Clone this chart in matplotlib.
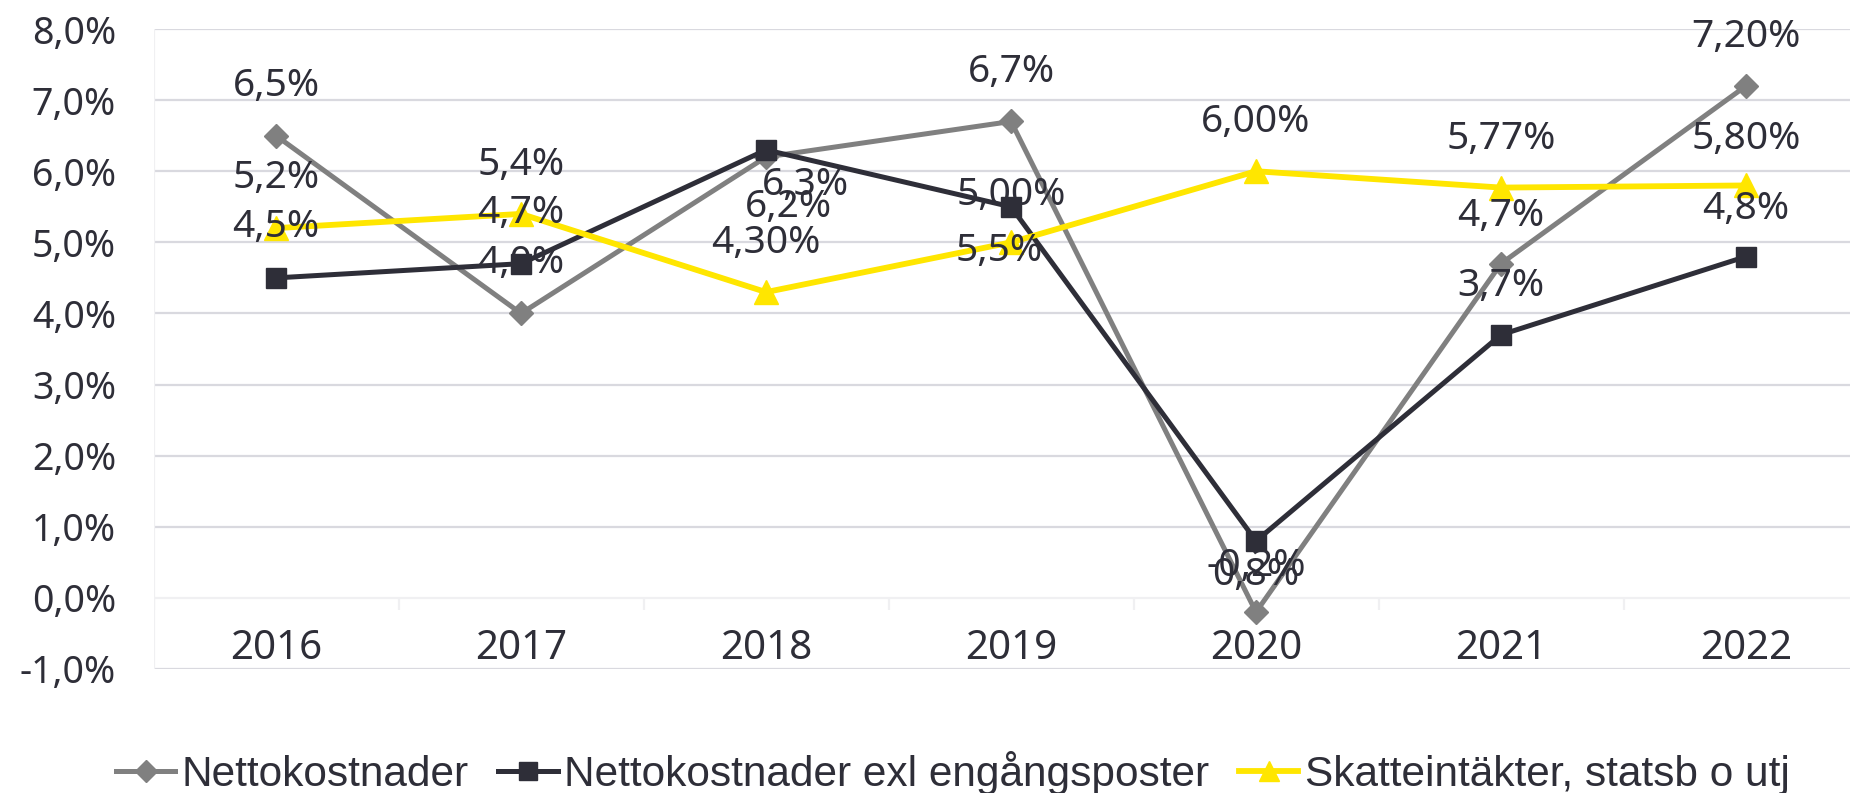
import numpy as np
import matplotlib
matplotlib.use("Agg")
import matplotlib.pyplot as plt
from matplotlib.lines import Line2D

# ---------------------------------------------------------------------------
# Data
# ---------------------------------------------------------------------------
years = ["2016", "2017", "2018", "2019", "2020", "2021", "2022"]

netto = [6.5, 4.0, 6.2, 6.7, -0.2, 4.7, 7.2]
netto_labels = ["6,5%", "4,0%", "6,2%", "6,7%", "-0,2%", "4,7%", "7,20%"]

netto_exl = [4.5, 4.7, 6.3, 5.5, 0.8, 3.7, 4.8]
netto_exl_labels = ["4,5%", "4,7%", "6,3%", "5,5%", "0,8%", "3,7%", "4,8%"]

skatt = [5.2, 5.4, 4.3, 5.0, 6.0, 5.77, 5.8]
skatt_labels = ["5,2%", "5,4%", "4,30%", "5,00%", "6,00%", "5,77%", "5,80%"]

series_names = ["Nettokostnader", "Nettokostnader exl engångsposter",
                "Skatteintäkter, statsb o utj"]

yticks = [-1, 0, 1, 2, 3, 4, 5, 6, 7, 8]

# ---------------------------------------------------------------------------
# Style
# ---------------------------------------------------------------------------
GRAY = "#808080"
DARK = "#2E2E38"
YELLOW = "#FFE600"
TEXT = "#2E2E38"
GRID = "#D9D9DF"
FAINT = "#F0F0F2"
FONT = ["Noto Sans", "DejaVu Sans"]
LEGEND_FONT = ["Liberation Sans", "DejaVu Sans"]

# label offsets (dx in categories, dy in percent units)
off_netto = [(0, 0.70), (0, 0.71), (0.09, -0.71), (0, 0.69), (0, 0.65), (0, 0.67), (0, 0.69)]
off_exl = [(0, 0.71), (0, 0.71), (0.16, -0.49), (-0.05, -0.62), (0, -0.48), (0, 0.69), (0, 0.67)]
off_skatt = [(0, 0.71), (0, 0.69), (0, 0.69), (0, 0.67), (0, 0.69), (0, 0.68), (0, 0.65)]

fig = plt.figure(figsize=(18.5, 7.93), dpi=100)
ax = fig.add_axes([0.083, 0.1564, 0.927, 0.807])

x = np.arange(len(years))

# grid lines
for t in yticks:
    ax.axhline(t, color=FAINT if t == 0 else GRID, lw=1.6, zorder=0)
ax.vlines(np.arange(len(years) + 1) - 0.5, -0.17, 0, color=FAINT, lw=1.6, zorder=0)
ax.vlines(-0.5, -1, 8, color=FAINT, lw=1.6, zorder=0)

ax.plot(x, netto, color=GRAY, lw=3.6, marker="D", ms=12, zorder=3)
ax.plot(x, netto_exl, color=DARK, lw=3.6, marker="s", ms=15, zorder=4)
ax.plot(x, skatt, color=YELLOW, lw=4.2, marker="^", ms=17, zorder=5)

for vals, labs, offs in [(netto, netto_labels, off_netto),
                         (netto_exl, netto_exl_labels, off_exl),
                         (skatt, skatt_labels, off_skatt)]:
    for i, (v, lab) in enumerate(zip(vals, labs)):
        dx, dy = offs[i]
        ax.text(i + dx, v + dy, lab, ha="center", va="center", fontsize=28,
                color=TEXT, family=FONT, zorder=10)

# category labels below zero line
for i, yr in enumerate(years):
    ax.text(i, -0.72, yr, ha="center", va="center", fontsize=29,
            color=TEXT, family=FONT)

ax.set_xlim(-0.5, len(years) - 0.5)
ax.set_ylim(-1, 8)
ax.set_yticks(yticks)
ax.set_yticklabels([f"{t:.1f}%".replace(".", ",") for t in yticks],
                   fontsize=27, color=TEXT, family=FONT)
ax.set_xticks([])
ax.tick_params(axis="y", length=0, pad=27)
for s in ax.spines.values():
    s.set_visible(False)

handles = [
    Line2D([], [], color=GRAY, lw=3.6, marker="D", ms=11),
    Line2D([], [], color=DARK, lw=3.6, marker="s", ms=13),
    Line2D([], [], color=YELLOW, lw=4.2, marker="^", ms=15),
]
leg = fig.legend(handles, series_names, loc="center", bbox_to_anchor=(0.515, 0.025),
                 ncol=3, frameon=False, handlelength=1.4, handletextpad=0.15,
                 columnspacing=0.7, prop={"family": LEGEND_FONT, "size": 30.5})
for t in leg.get_texts():
    t.set_color(TEXT)

fig.savefig("out.png", dpi=100)
